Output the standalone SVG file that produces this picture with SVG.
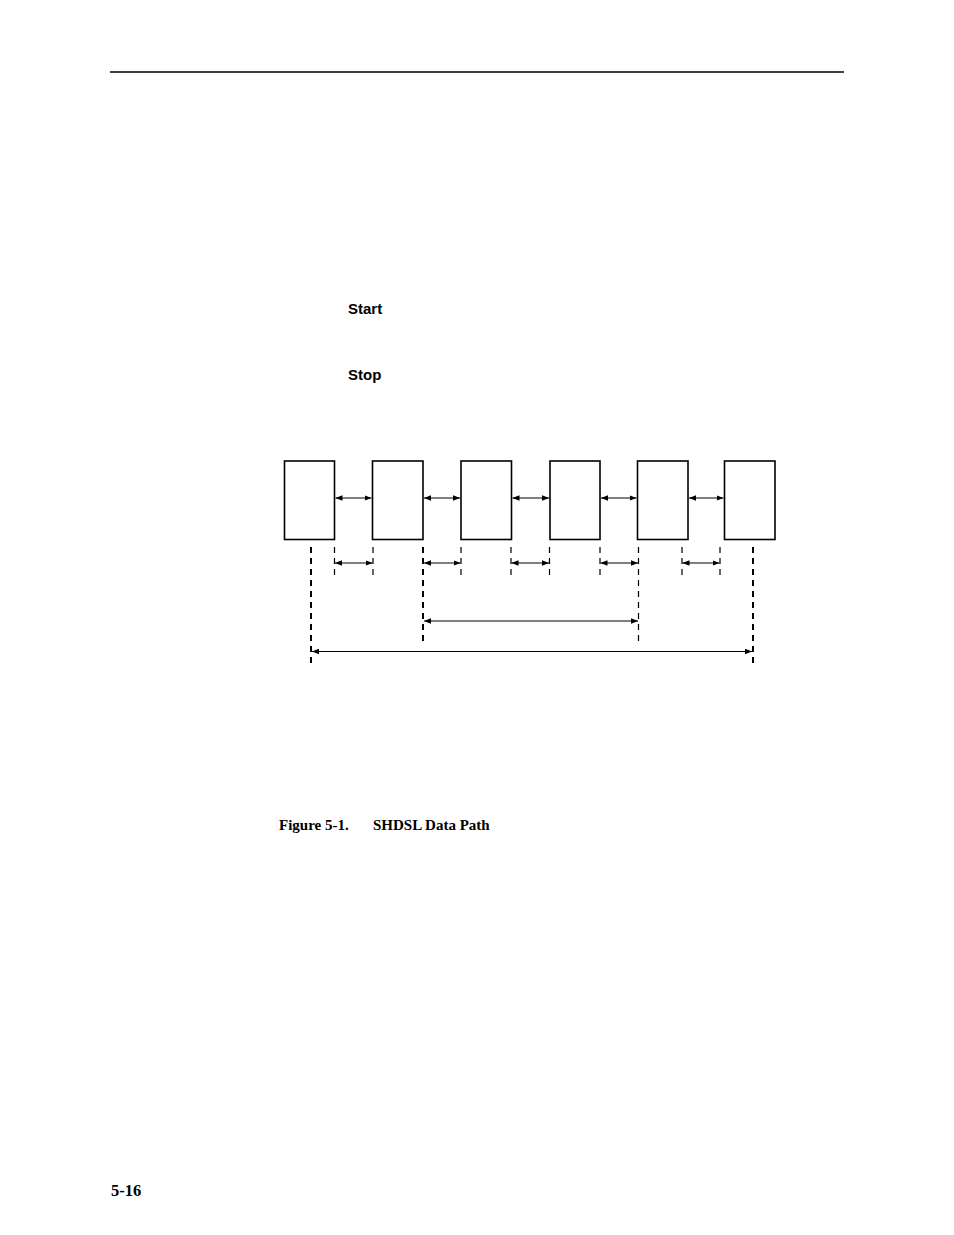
<svg xmlns="http://www.w3.org/2000/svg" width="954" height="1235" viewBox="0 0 954 1235">
<defs>
<marker id="ah" viewBox="0 0 10 8" refX="10" refY="4" markerWidth="7" markerHeight="5.6" orient="auto-start-reverse" markerUnits="userSpaceOnUse"><path d="M0,0 L10,4 L0,8 z" fill="#000"/></marker>
</defs>
<style>
.box{fill:#fff;stroke:#000;stroke-width:1.6}
.arr{stroke:#000;stroke-width:1.1;fill:none;marker-start:url(#ah);marker-end:url(#ah)}
.dl{stroke:#000;stroke-width:2;stroke-dasharray:6,5;fill:none}
.ds{stroke:#000;stroke-width:1.2;stroke-dasharray:6,5;fill:none}
.sans{font-family:"Liberation Sans",Arial,sans-serif;font-weight:bold;font-size:15px}
.serif{font-family:"Liberation Serif","Times New Roman",serif;font-weight:bold}
</style>
<rect width="954" height="1235" fill="#fff"/>
<line x1="110" y1="72" x2="844" y2="72" stroke="#000" stroke-width="1.3"/>
<text class="sans" x="348" y="314">Start</text>
<text class="sans" x="348" y="380">Stop</text>
<g id="node1"><rect class="box" x="284.5" y="461" width="50" height="78.5"/></g>
<g id="node2"><rect class="box" x="372.5" y="461" width="50.5" height="78.5"/></g>
<g id="node3"><rect class="box" x="461" y="461" width="50.5" height="78.5"/></g>
<g id="node4"><rect class="box" x="550" y="461" width="50" height="78.5"/></g>
<g id="node5"><rect class="box" x="637.5" y="461" width="50.5" height="78.5"/></g>
<g id="node6"><rect class="box" x="724.5" y="461" width="50.5" height="78.5"/></g>
<g id="connectors">
<line class="arr" x1="335.5" y1="498" x2="371.5" y2="498"/>
<line class="arr" x1="424" y1="498" x2="460" y2="498"/>
<line class="arr" x1="512.5" y1="498" x2="549" y2="498"/>
<line class="arr" x1="601" y1="498" x2="636.5" y2="498"/>
<line class="arr" x1="689" y1="498" x2="723.5" y2="498"/>
<line class="dl" x1="311" y1="547" x2="311" y2="667"/>
<line class="dl" x1="753" y1="547" x2="753" y2="667"/>
<line class="ds" x1="334.5" y1="547" x2="334.5" y2="578"/>
<line class="ds" x1="373" y1="547" x2="373" y2="578"/>
<line class="dl" x1="423" y1="547" x2="423" y2="643"/>
<line class="ds" x1="461" y1="547" x2="461" y2="578"/>
<line class="ds" x1="511" y1="547" x2="511" y2="578"/>
<line class="ds" x1="549.5" y1="547" x2="549.5" y2="578"/>
<line class="ds" x1="600" y1="547" x2="600" y2="578"/>
<line class="ds" x1="638.5" y1="547" x2="638.5" y2="643"/>
<line class="ds" x1="682" y1="547" x2="682" y2="578"/>
<line class="ds" x1="720" y1="547" x2="720" y2="578"/>
<line class="arr" x1="335" y1="563" x2="372.5" y2="563"/>
<line class="arr" x1="424" y1="563" x2="460.5" y2="563"/>
<line class="arr" x1="511.5" y1="563" x2="549" y2="563"/>
<line class="arr" x1="600.5" y1="563" x2="638" y2="563"/>
<line class="arr" x1="682.5" y1="563" x2="719.5" y2="563"/>
<line class="arr" x1="424" y1="621" x2="638" y2="621"/>
<line class="arr" x1="312" y1="651.5" x2="752" y2="651.5"/>
</g>
<text class="serif" x="279" y="830" font-size="15">Figure 5-1.</text>
<text class="serif" x="373" y="830" font-size="15">SHDSL Data Path</text>
<text class="serif" x="111" y="1196" font-size="16.5">5-16</text>
</svg>
